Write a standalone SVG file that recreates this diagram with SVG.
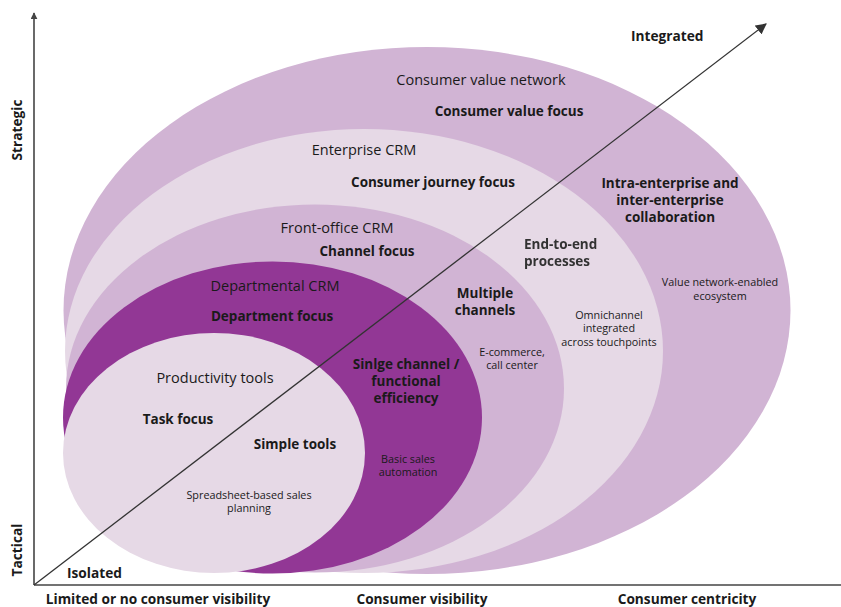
<svg xmlns="http://www.w3.org/2000/svg" width="841" height="607" viewBox="0 0 841 607">
<style>
text{font-family:"Open Sans","Noto Sans","Liberation Sans",sans-serif;fill:#1a1a1a}
.t{font-size:14.5px}
.b{font-size:13.5px;font-weight:bold}
.s{font-size:10.8px}
.ax{font-size:13.7px;font-weight:bold}
.m{text-anchor:middle}
.axis{stroke:#444;stroke-width:1.6;fill:none}
.diag{stroke:#333;stroke-width:1.3;fill:none}
</style>
<defs>
<marker id="ah" viewBox="0 0 10 10" refX="9" refY="5" markerWidth="7" markerHeight="7" orient="auto" markerUnits="userSpaceOnUse">
<path d="M0,0 L10,5 L0,10 z" fill="#444"/>
</marker>
<marker id="ah2" viewBox="0 0 10 10" refX="9" refY="5" markerWidth="11" markerHeight="11" orient="auto" markerUnits="userSpaceOnUse">
<path d="M0,0 L10,5 L0,10 z" fill="#333"/>
</marker>
<filter id="blur" x="-10%" y="-30%" width="120%" height="160%"><feGaussianBlur stdDeviation="0.6"/></filter>
</defs>
<g id="consumer-value-network">
<ellipse cx="427" cy="310.5" rx="363.5" ry="263.5" fill="#d1b4d4"/>
</g>
<g id="enterprise-crm">
<ellipse cx="364" cy="351" rx="299" ry="222" fill="#e6d9e6"/>
</g>
<g id="front-office-crm">
<ellipse cx="315" cy="388.5" rx="249" ry="184" fill="#d1b4d4"/>
</g>
<g id="departmental-crm">
<ellipse cx="272.5" cy="417.5" rx="209.5" ry="156" fill="#923795"/>
</g>
<g id="productivity-tools">
<ellipse cx="214" cy="453" rx="151" ry="120" fill="#e6d9e6"/>
</g>
<g id="connectors">
<line class="axis" x1="34" y1="585" x2="34" y2="13" marker-end="url(#ah)"/>
<line class="axis" x1="34" y1="585" x2="841" y2="585"/>
<line class="diag" x1="34" y1="585" x2="766" y2="24" marker-end="url(#ah2)"/>
</g>
<g id="labels">
<text class="ax m" transform="translate(22,130) rotate(-90)">Strategic</text>
<text class="ax m" transform="translate(22,550) rotate(-90)">Tactical</text>
<text class="ax" x="631" y="41">Integrated</text>
<text class="ax" x="67" y="578">Isolated</text>
<text class="ax m" x="158" y="604">Limited or no consumer visibility</text>
<text class="ax m" x="422" y="604">Consumer visibility</text>
<text class="ax m" x="687" y="604">Consumer centricity</text>

<text class="t m" x="481" y="85">Consumer value network</text>
<text class="b m" x="509" y="116">Consumer value focus</text>
<text class="b m" x="670" y="188">Intra-enterprise and</text>
<text class="b m" x="670" y="205">inter-enterprise</text>
<text class="b m" x="670" y="222">collaboration</text>
<text class="s m" x="720" y="286">Value network-enabled</text>
<text class="s m" x="720" y="299.5">ecosystem</text>

<text class="t m" x="364" y="155">Enterprise CRM</text>
<text class="b m" x="433" y="187">Consumer journey focus</text>
<g filter="url(#blur)">
<text class="b" x="524" y="248.5" style="fill:#333">End-to-end</text>
<text class="b" x="524" y="265.5" style="fill:#333">processes</text>
</g>
<text class="s m" x="609" y="318.5">Omnichannel</text>
<text class="s m" x="609" y="332">integrated</text>
<text class="s m" x="609" y="345.5">across touchpoints</text>

<text class="t m" x="337" y="233">Front-office CRM</text>
<text class="b m" x="367" y="256">Channel focus</text>
<text class="b m" x="485" y="298">Multiple</text>
<text class="b m" x="485" y="315">channels</text>
<text class="s m" x="512" y="355.5">E-commerce,</text>
<text class="s m" x="512" y="369">call center</text>

<text class="t m" x="275" y="291">Departmental CRM</text>
<text class="b m" x="272" y="321">Department focus</text>
<text class="b m" x="406" y="369">Sinlge channel /</text>
<text class="b m" x="406" y="386">functional</text>
<text class="b m" x="406" y="403">efficiency</text>
<text class="s m" x="408" y="462.5">Basic sales</text>
<text class="s m" x="408" y="476">automation</text>

<text class="t m" x="215" y="383">Productivity tools</text>
<text class="b m" x="178" y="424">Task focus</text>
<text class="b m" x="295" y="449">Simple tools</text>
<text class="s m" x="249" y="498.5">Spreadsheet-based sales</text>
<text class="s m" x="249" y="512">planning</text>
</g>
</svg>
